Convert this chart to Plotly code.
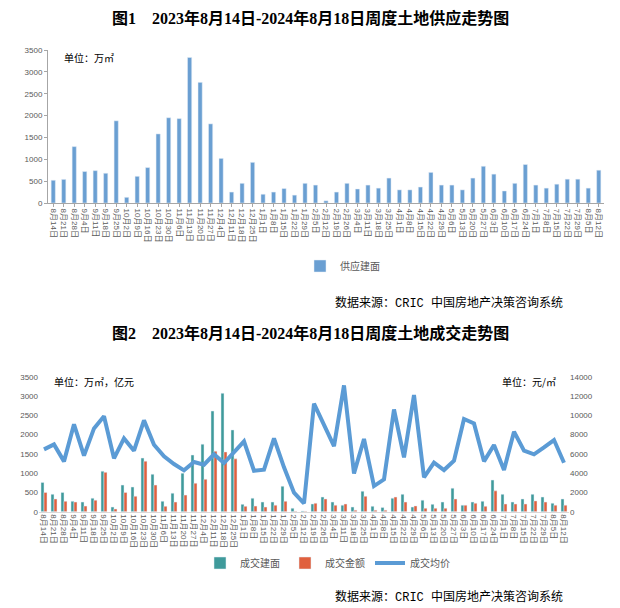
import plotly.graph_objects as go

# weekly categories, 2023-08-14 .. 2024-08-12
weeks = [
    "8月14日", "8月21日", "8月28日", "9月4日", "9月11日", "9月18日", "9月25日",
    "10月2日", "10月9日", "10月16日", "10月23日", "10月30日", "11月6日", "11月13日",
    "11月20日", "11月27日", "12月4日", "12月11日", "12月18日", "12月25日",
    "1月1日", "1月8日", "1月15日", "1月22日", "1月29日", "2月5日", "2月12日",
    "2月19日", "2月26日", "3月4日", "3月11日", "3月18日", "3月25日", "4月1日",
    "4月8日", "4月15日", "4月22日", "4月29日", "5月6日", "5月13日", "5月20日",
    "5月27日", "6月3日", "6月10日", "6月17日", "6月24日", "7月1日", "7月8日",
    "7月15日", "7月22日", "7月29日", "8月5日", "8月12日",
]

# chart 1: supply floor area (万㎡)
supply = [
    520, 540, 1290, 720, 740, 680, 1880, 130, 610, 810, 1580, 1950, 1930, 3330,
    2760, 1810, 1020, 250, 450, 930, 200, 250, 330, 180, 450, 410, 50,
    250, 450, 320, 410, 340, 570, 300, 300, 365, 700, 410, 410, 300, 570,
    840, 660, 275, 450, 880, 410, 340, 430, 545, 545, 340, 750,
]

# chart 2: transactions
deal_area = [
    760, 450, 500, 270, 250, 350, 1050, 120, 690, 640, 1390, 970, 270, 480,
    1000, 1470, 1750, 2610, 3070, 2120, 190, 350, 250, 250, 660, 90, 20,
    200, 380, 250, 170, 120, 530, 140, 110, 350, 450, 120, 300, 190, 250,
    610, 170, 250, 270, 820, 450, 250, 330, 450, 380, 220, 330,
]
deal_amount = [
    500, 330, 270, 250, 145, 300, 1020, 70, 500, 400, 1310, 690, 140, 250,
    430, 740, 840, 1570, 1550, 1370, 140, 145, 120, 170, 270, 10, 10,
    220, 330, 170, 200, 40, 400, 40, 40, 380, 250, 150, 90, 90, 90,
    330, 170, 220, 140, 540, 200, 200, 200, 280, 250, 170, 170,
]
deal_price = [
    6460, 6980, 5220, 9060, 5810, 8640, 9890, 5530, 7600, 6330, 9470, 6950,
    5740, 4940, 4290, 5150, 4870, 5950, 5050, 6190, 7290, 4250, 4360, 7600,
    4600, 1970, 860, 11200, 8990, 6800, 13100, 3970, 7540, 2660, 3350, 10600,
    5630, 12100, 3560, 5080, 4320, 5290, 9610, 9160, 5220, 6910, 4320, 8300,
    6330, 5950, 6670, 7430, 5080,
]

# the page body has an 8px margin, so the figure is shrunk and shifted
PAD = 8
W, H = 620 - PAD, 608 - PAD


def fx(px):
    return (px - PAD) / W


def fy(px):
    return 1 - (px - PAD) / H


CJK = "Noto Sans CJK SC"
TITLE_FONT = dict(family="Liberation Serif, " + CJK, size=16, color="#000000")
TICK_FONT = dict(family="Liberation Sans, " + CJK, size=8, color="#595959")

fig = go.Figure()
fig.add_trace(go.Bar(
    x=weeks, y=supply, name="供应建面", marker_color="#6A9FD2", width=0.4,
    xaxis="x", yaxis="y", legend="legend", showlegend=True,
))
fig.add_trace(go.Bar(
    x=weeks, y=deal_area, name="成交建面", marker_color="#3F9A9B",
    width=0.3, offset=-0.3, xaxis="x2", yaxis="y2", legend="legend2",
))
fig.add_trace(go.Bar(
    x=weeks, y=deal_amount, name="成交金额", marker_color="#E0603E",
    width=0.3, offset=0.0, xaxis="x2", yaxis="y2", legend="legend2",
))
fig.add_trace(go.Scatter(
    x=weeks, y=deal_price, name="成交均价", mode="lines",
    line=dict(color="#5B9BD5", width=4), xaxis="x2", yaxis="y3",
    legend="legend2",
))

axis_common = dict(showgrid=False, zeroline=False, tickfont=TICK_FONT,
                   automargin=False)

fig.update_layout(
    width=W, height=H, margin=dict(l=0, r=0, t=0, b=0),
    paper_bgcolor="white", plot_bgcolor="white", showlegend=True,
    font=dict(family=CJK, size=10, color="#000000"),
    xaxis=dict(
        domain=[fx(48), fx(604)], anchor="y", type="category", tickangle=90,
        tickmode="linear", dtick=1,
        showline=True, linecolor="#A6A6A6", ticks="outside", ticklen=3,
        tickcolor="#A6A6A6", **axis_common,
    ),
    yaxis=dict(
        domain=[fy(203), fy(50)], anchor="x", range=[0, 3500], dtick=500,
        showline=True, linecolor="#A6A6A6", ticks="outside", ticklen=3,
        tickcolor="#A6A6A6", **axis_common,
    ),
    xaxis2=dict(
        domain=[fx(39), fx(569)], anchor="y2", type="category", tickangle=90,
        tickmode="linear", dtick=1,
        showline=True, linecolor="#D9D9D9", **axis_common,
    ),
    yaxis2=dict(
        domain=[fy(511.7), fy(376.7)], anchor="x2", range=[0, 3500],
        dtick=500, **axis_common,
    ),
    yaxis3=dict(
        overlaying="y2", side="right", anchor="x2", range=[0, 14000],
        dtick=2000, tickformat="d", **axis_common,
    ),
    legend=dict(
        orientation="h", x=fx(300), y=fy(266), xanchor="left",
        yanchor="middle", font=dict(family=CJK, size=10, color="#595959"),
        bgcolor="rgba(0,0,0,0)", itemwidth=30,
    ),
    legend2=dict(
        orientation="h", x=fx(200), y=fy(563), xanchor="left",
        yanchor="middle", font=dict(family=CJK, size=10, color="#595959"),
        bgcolor="rgba(0,0,0,0)",
    ),
)

notes = [
    ("图1　2023年8月14日-2024年8月18日周度土地供应走势图", 310, 18, "center", TITLE_FONT),
    ("单位：万㎡", 62, 57, "left", dict(family=CJK, size=10)),
    ("数据来源：CRIC 中国房地产决策咨询系统", 565, 303, "right",
     dict(family="Liberation Mono, " + CJK, size=12)),
    ("图2　2023年8月14日-2024年8月18日周度土地成交走势图", 310, 333, "center", TITLE_FONT),
    ("单位：万㎡，亿元", 52, 381, "left", dict(family=CJK, size=10)),
    ("单位：元/㎡", 558, 381, "right", dict(family=CJK, size=10)),
    ("数据来源：CRIC 中国房地产决策咨询系统", 565, 597, "right",
     dict(family="Liberation Mono, " + CJK, size=12)),
]
for text, x, y, anchor, font in notes:
    fig.add_annotation(
        text=text if "图" not in text[:1] else "<b>" + text + "</b>",
        x=fx(x), y=fy(y), xref="paper", yref="paper",
        xanchor=anchor, yanchor="middle", showarrow=False, font=font,
    )

fig.write_html("out.html")
